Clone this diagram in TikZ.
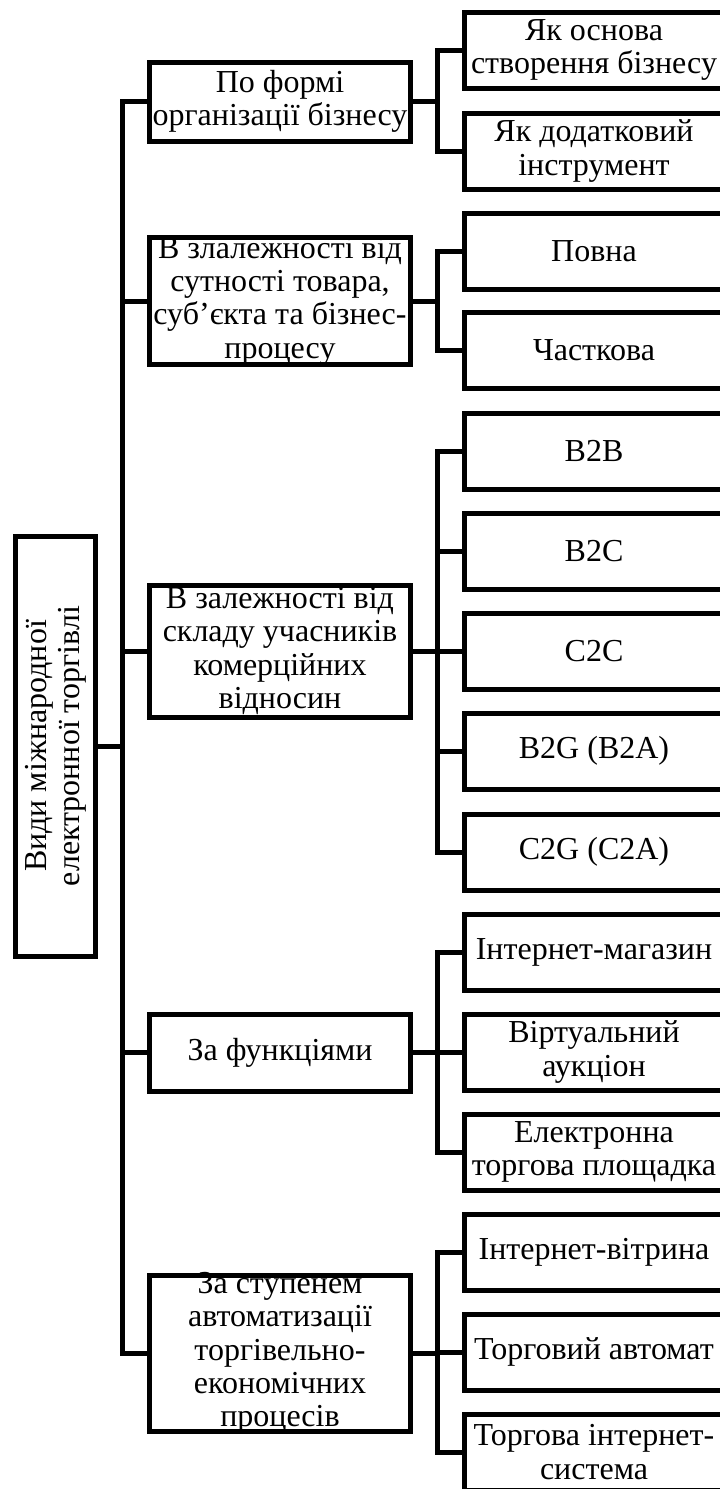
\documentclass[tikz,border=0pt]{standalone}
\usepackage{fontspec}
\setmainfont{Liberation Serif}
\begin{document}
\begin{tikzpicture}[x=1pt,y=-1pt,
  every node/.style={inner sep=0pt, outer sep=0pt},
  box/.style={draw, line width=5pt, rectangle},
  lone/.style={box, minimum width=261pt},
  ltwo/.style={box, minimum width=260pt, minimum height=76pt},
  txt/.style={align=center, font=\fontsize{32}{33.3}\selectfont},
  conn/.style={line width=5pt}
]
\useasboundingbox (0,0) rectangle (720,1489);
\clip (0,0) rectangle (720,1489);
\fill[white] (0,0) rectangle (720,1489);

% root
\node[box, minimum width=80pt, minimum height=420pt] (root) at (55.5,746) {};
\node[txt, rotate=90] (troot) at (root.center) {Види міжнародної\\електронної торгівлі};

% level 1
\node[lone, minimum height=79pt]  (b1) at (280,101.5) {};
\node[lone, minimum height=127pt] (b2) at (280,301) {};
\node[lone, minimum height=132pt] (b3) at (280,651) {};
\node[lone, minimum height=77pt]  (b4) at (280,1052.5) {};
\node[lone, minimum height=156pt] (b5) at (280,1353) {};
\node[txt] (tb1) at (b1.center) {По формі\\організації бізнесу};
\node[txt] (tb2) at (b2.center) {В злалежності від\\сутності товара,\\суб’єкта та бізнес-\\процесу};
\node[txt] (tb3) at (b3.center) {В залежності від\\складу учасників\\комерційних\\відносин};
\node[txt] (tb4) at (b4.center) {За функціями};
\node[txt] (tb5) at (b5.center) {За ступенем\\автоматизації\\торгівельно-\\економічних\\процесів};

% level 2
\node[ltwo] (c1)  at (594,50) {};
\node[ltwo] (c2)  at (594,151) {};
\node[ltwo] (c3)  at (594,251) {};
\node[ltwo] (c4)  at (594,350) {};
\node[ltwo] (c5)  at (594,451) {};
\node[ltwo] (c6)  at (594,551) {};
\node[ltwo] (c7)  at (594,651) {};
\node[ltwo] (c8)  at (594,751) {};
\node[ltwo] (c9)  at (594,852) {};
\node[ltwo] (c10) at (594,952) {};
\node[ltwo] (c11) at (594,1052) {};
\node[ltwo] (c12) at (594,1152) {};
\node[ltwo] (c13) at (594,1252) {};
\node[ltwo] (c14) at (594,1352) {};
\node[ltwo] (c15) at (594,1452) {};
\node[txt] (tc1)  at (c1.center)  {Як основа\\створення бізнесу};
\node[txt] (tc2)  at (c2.center)  {Як додатковий\\інструмент};
\node[txt] (tc3)  at (c3.center)  {Повна};
\node[txt] (tc4)  at (c4.center)  {Часткова};
\node[txt] (tc5)  at (c5.center)  {B2B};
\node[txt] (tc6)  at (c6.center)  {B2C};
\node[txt] (tc7)  at (c7.center)  {C2C};
\node[txt] (tc8)  at (c8.center)  {B2G (B2A)};
\node[txt] (tc9)  at (c9.center)  {C2G (C2A)};
\node[txt] (tc10) at (c10.center) {Інтернет-магазин};
\node[txt] (tc11) at (c11.center) {Віртуальний\\аукціон};
\node[txt] (tc12) at (c12.center) {Електронна\\торгова площадка};
\node[txt] (tc13) at (c13.center) {Інтернет-вітрина};
\node[txt] (tc14) at (c14.center) {Торговий автомат};
\node[txt] (tc15) at (c15.center) {Торгова інтернет-\\система};

% trunks
\coordinate (trunk) at (122.5,0);
\coordinate (sub) at (437.5,0);

\draw[conn] (b1.west) -- (b1.west -| trunk) -- (b5.west -| trunk) -- (b5.west);
\foreach \n in {b2,b3,b4} \draw[conn] (\n.west) -- (\n.west -| trunk);
\draw[conn] (root.east) -- (root.east -| trunk);

% groups
\draw[conn] (c1.west) -- (c1.west -| sub) -- (c2.west -| sub) -- (c2.west);
\draw[conn] (b1.east) -- (b1.east -| sub);

\draw[conn] (c3.west) -- (c3.west -| sub) -- (c4.west -| sub) -- (c4.west);
\draw[conn] (b2.east) -- (b2.east -| sub);

\draw[conn] (c5.west) -- (c5.west -| sub) -- (c9.west -| sub) -- (c9.west);
\foreach \n in {c6,c7,c8} \draw[conn] (\n.west) -- (\n.west -| sub);
\draw[conn] (b3.east) -- (b3.east -| sub);

\draw[conn] (c10.west) -- (c10.west -| sub) -- (c12.west -| sub) -- (c12.west);
\draw[conn] (c11.west) -- (c11.west -| sub);
\draw[conn] (b4.east) -- (b4.east -| sub);

\draw[conn] (c13.west) -- (c13.west -| sub) -- (c15.west -| sub) -- (c15.west);
\draw[conn] (c14.west) -- (c14.west -| sub);
\draw[conn] (b5.east) -- (b5.east -| sub);
\end{tikzpicture}
\end{document}
